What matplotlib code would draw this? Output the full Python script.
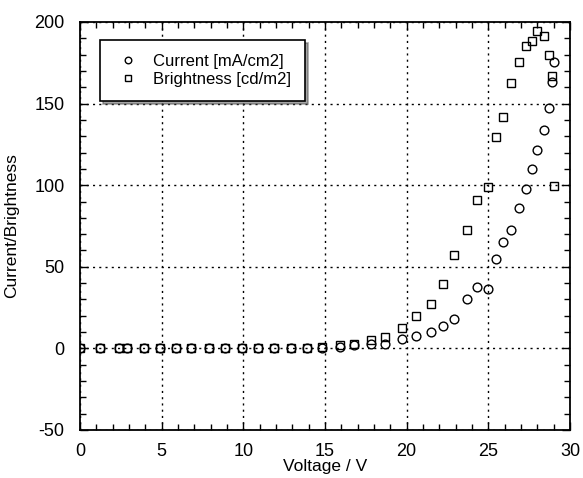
import matplotlib.pyplot as plt
from matplotlib.ticker import MultipleLocator

# Daten
voltage = [0, 1.2, 2.4, 2.9, 3.9, 4.9, 5.9, 6.8, 7.9, 8.9, 9.9, 10.9, 11.9,
           12.9, 13.9, 14.8, 15.9, 16.8, 17.8, 18.7, 19.7, 20.6, 21.5, 22.2,
           22.9, 23.7, 24.3, 25.0, 25.5, 25.9, 26.4, 26.9, 27.3, 27.7, 28.0,
           28.4, 28.7, 28.9, 29.0]
current = [0, 0, 0, 0, 0, 0, 0, 0, 0, 0, 0, 0, 0,
           0, 0, 0.5, 1, 2, 2.5, 3, 5.5, 7.9, 9.8, 14.0,
           18.3, 30.5, 37.8, 36.6, 54.9, 65.2, 72.6, 86.0, 97.6, 109.8, 121.3,
           134.1, 147.6, 163.4, 175.6]
brightness = [0, 0, 0, 0, 0, 0, 0, 0, 0, 0, 0, 0, 0,
              0, 0, 0.6, 1.8, 3, 4.9, 6.7, 12.2, 20.1, 27.4, 39.6,
              57.3, 72.6, 90.9, 98.8, 129.3, 142.0, 162.8, 175.6, 185.4, 188.4, 194.5,
              191.5, 179.9, 167.1, 99.4]

plt.rcParams['font.family'] = ['Liberation Sans', 'DejaVu Sans']
plt.rcParams['font.size'] = 13
plt.rcParams['axes.unicode_minus'] = False

fig = plt.figure(figsize=(5.83, 4.78), dpi=100)
# Achsenbereich in Pixeln: links 80, rechts 570, oben 22, unten 430
ax = fig.add_axes([80 / 583, 1 - 430 / 478, 490 / 583, 408 / 478])

ax.plot(voltage, current, 'o', mfc='none', mec='black', ms=6.3, mew=1,
        label='Current [mA/cm2]')
ax.plot(voltage, brightness, 's', mfc='none', mec='black', ms=6.3, mew=1,
        label='Brightness [cd/m2]')

ax.set_xlim(0, 30)
ax.set_ylim(-50, 200)
ax.xaxis.set_major_locator(MultipleLocator(5))
ax.xaxis.set_minor_locator(MultipleLocator(1))
ax.yaxis.set_major_locator(MultipleLocator(50))
ax.yaxis.set_minor_locator(MultipleLocator(10))
ax.tick_params(which='both', direction='in', top=True, right=True)
ax.tick_params(which='major', length=6, width=1, pad=9)
ax.tick_params(which='minor', length=4, width=1)
ax.tick_params(axis='y', which='major', pad=11)
ax.grid(True, which='major', color='black', linestyle=(0, (1.5, 3)), linewidth=1)
for s in ax.spines.values():
    s.set_linewidth(1.3)

ax.set_xlabel('Voltage / V', fontsize=12.5, labelpad=0)
ax.set_ylabel('Current/Brightness', fontsize=12.5, labelpad=11)

leg = ax.legend(loc='upper left', bbox_to_anchor=(0.041, 0.956), fancybox=False,
                shadow=True, framealpha=1, edgecolor='black', markerscale=0.75,
                fontsize=12, handlelength=1.6, handletextpad=0.7, borderpad=0.85,
                labelspacing=0.15, borderaxespad=0)
leg.get_frame().set_linewidth(1.2)

plt.savefig('out.png', dpi=100)
